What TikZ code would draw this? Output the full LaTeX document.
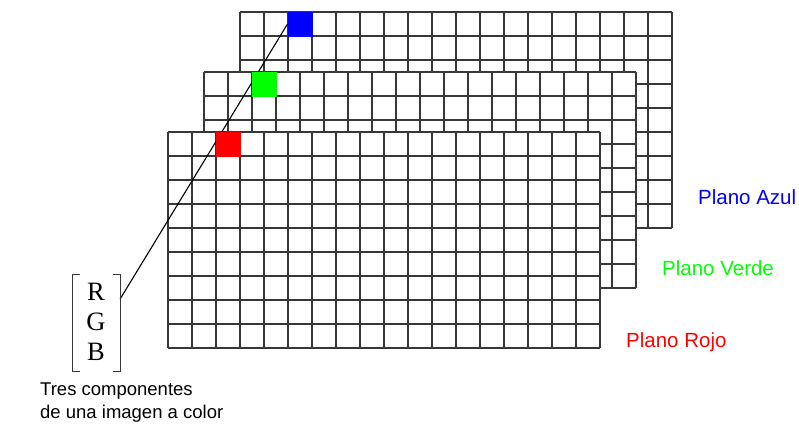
\documentclass[tikz,border=0pt]{standalone}
\usepackage{fontspec}
\setmainfont{Liberation Sans}
\newfontfamily\rgbfont{Liberation Serif}
\usetikzlibrary{calc}
\definecolor{pblue}{RGB}{0,0,255}
\definecolor{pgreen}{RGB}{0,255,0}
\definecolor{pred}{RGB}{255,0,0}
\pgfdeclarelayer{bg}
\pgfdeclarelayer{mid}
\pgfsetlayers{bg,mid,main}
\tikzset{
  gridline/.style={draw=black!78, line width=1.1pt},
  plane/.pic={
    \fill[white] (0,0) rectangle (432,216);
    \foreach \i in {0,...,18} \draw[gridline] (\i*24,0) -- (\i*24,216);
    \foreach \j in {0,...,9} \draw[gridline] (0,\j*24) -- (432,\j*24);
  },
  cellbox/.style={minimum size=25pt, inner sep=0pt, outer sep=0pt, draw=none},
  planelabel/.style={anchor=base west, font=\fontsize{20.5}{24}\selectfont, inner sep=0pt},
  captext/.style={anchor=base west, font=\fontsize{18.5}{22}\selectfont, inner sep=0pt},
  bracket/.style={draw=black!78, line width=1.1pt},
  link/.style={draw=black, line width=1.1pt},
}
\begin{document}
\begin{tikzpicture}[x=1pt, y=-1pt]
\useasboundingbox (0,0) rectangle (799,426);
\begin{pgfonlayer}{bg}
  \pic at (240,12) {plane};
  \pic at (204,72) {plane};
  \pic at (168,132) {plane};
\end{pgfonlayer}
% coloured cells
\node[cellbox, fill=pblue] (sb) at (300,24) {};
\node[cellbox, fill=pgreen] (sg) at (264,84) {};
\node[cellbox, fill=pred] (sr) at (228,144) {};
% RGB vector
\node[minimum width=47pt, minimum height=96pt, inner sep=0pt] (rgb) at (96.5,323) {};
\node[align=center, inner sep=0pt, font=\rgbfont\fontsize{26.5}{30}\selectfont] (rgbtext) at (96,321.5) {R\\G\\B};
\draw[bracket] ($(rgb.north west)+(7,0)$) -- (rgb.north west) -- (rgb.south west) -- ($(rgb.south west)+(7,0)$);
\draw[bracket] ($(rgb.north east)+(-7,0)$) -- (rgb.north east) -- (rgb.south east) -- ($(rgb.south east)+(-7,0)$);
\coordinate (lk) at ($(rgb.north east)!0.25!(rgb.south east)$);
\begin{pgfonlayer}{mid}
  \draw[link] (lk) -- (sb.west);
\end{pgfonlayer}
% labels
\node[planelabel, text=pblue] (la) at (698,204) {Plano Azul};
\node[planelabel, text=pgreen] (lv) at (662,275.5) {Plano Verde};
\node[planelabel, text=pred] (lr) at (626,347) {Plano Rojo};
\node[captext] (c1) at (40,395.5) {Tres componentes};
\node[captext] (c2) at (40,418) {de una imagen a color};
\end{tikzpicture}
\end{document}
